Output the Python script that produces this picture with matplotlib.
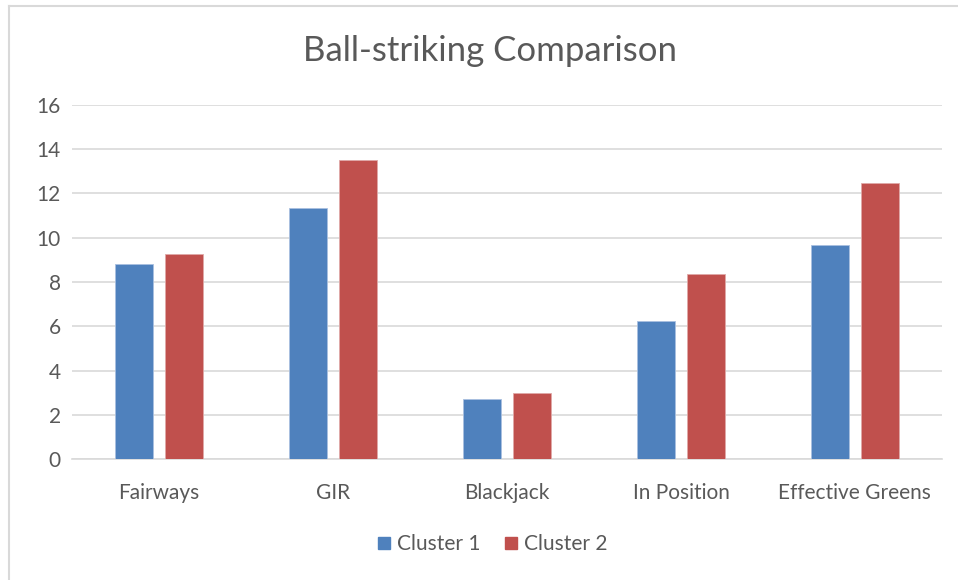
import matplotlib
matplotlib.use("Agg")
import matplotlib.pyplot as plt
import numpy as np
from matplotlib.lines import Line2D

categories = ["Fairways", "GIR", "Blackjack", "In Position", "Effective Greens"]
cluster1 = [8.80, 11.33, 2.73, 6.25, 9.68]
cluster2 = [9.25, 13.49, 3.00, 8.35, 12.48]
series_names = ["Cluster 1", "Cluster 2"]
yticks = [0, 2, 4, 6, 8, 10, 12, 14, 16]

plt.rcParams['font.family'] = ['Lato', 'DejaVu Sans']
text_color = "#595959"
c1 = "#4F81BD"
c2 = "#C0504D"

fig = plt.figure(figsize=(9.58, 5.8), dpi=100)
ax = fig.add_axes([0.0752, 0.208, 0.908, 0.6115])

x = np.arange(len(categories))
w = 0.218
gap = 0.069
off = (w + gap) / 2
ax.bar(x - off, cluster1, width=w, color=c1, edgecolor="#a9c0e0", linewidth=0.6, label=series_names[0], zorder=3)
ax.bar(x + off, cluster2, width=w, color=c2, edgecolor="#e0a9a8", linewidth=0.6, label=series_names[1], zorder=3)

ax.set_xlim(-0.5, len(categories) - 0.5)
ax.set_ylim(0, 16)
ax.set_yticks(yticks)
ax.set_yticklabels([str(t) for t in yticks])
ax.set_xticks(x)
ax.set_xticklabels(categories)
ax.grid(axis='y', color="#d9d9d9", linewidth=1.2, zorder=0)
ax.tick_params(axis='both', length=0, colors=text_color, labelsize=15)
ax.tick_params(axis='y', pad=8)
ax.tick_params(axis='x', pad=17)
for s in ["top", "right", "left"]:
    ax.spines[s].set_visible(False)
ax.spines["bottom"].set_color("#d9d9d9")
ax.spines["bottom"].set_linewidth(1.2)

fig.text(0.512, 0.912, "Ball-striking Comparison", ha="center", va="center",
         fontsize=25, color=text_color)

handles = [Line2D([0], [0], marker='s', linestyle='', markersize=9, color=c1),
           Line2D([0], [0], marker='s', linestyle='', markersize=9, color=c2)]
fig.legend(handles, series_names, loc="center", bbox_to_anchor=(0.512, 0.062),
           ncol=2, frameon=False, fontsize=15, labelcolor=text_color,
           handletextpad=0.1, columnspacing=1.0, handlelength=1.0)

# chart border (top and left visible)
fig.add_artist(Line2D([9/958, 9/958], [0, 1 - 6/580], color="#d9d9d9", linewidth=1.5, transform=fig.transFigure))
fig.add_artist(Line2D([9/958, 1], [1 - 6/580, 1 - 6/580], color="#d9d9d9", linewidth=1.5, transform=fig.transFigure))

fig.savefig("out.png", dpi=100)
